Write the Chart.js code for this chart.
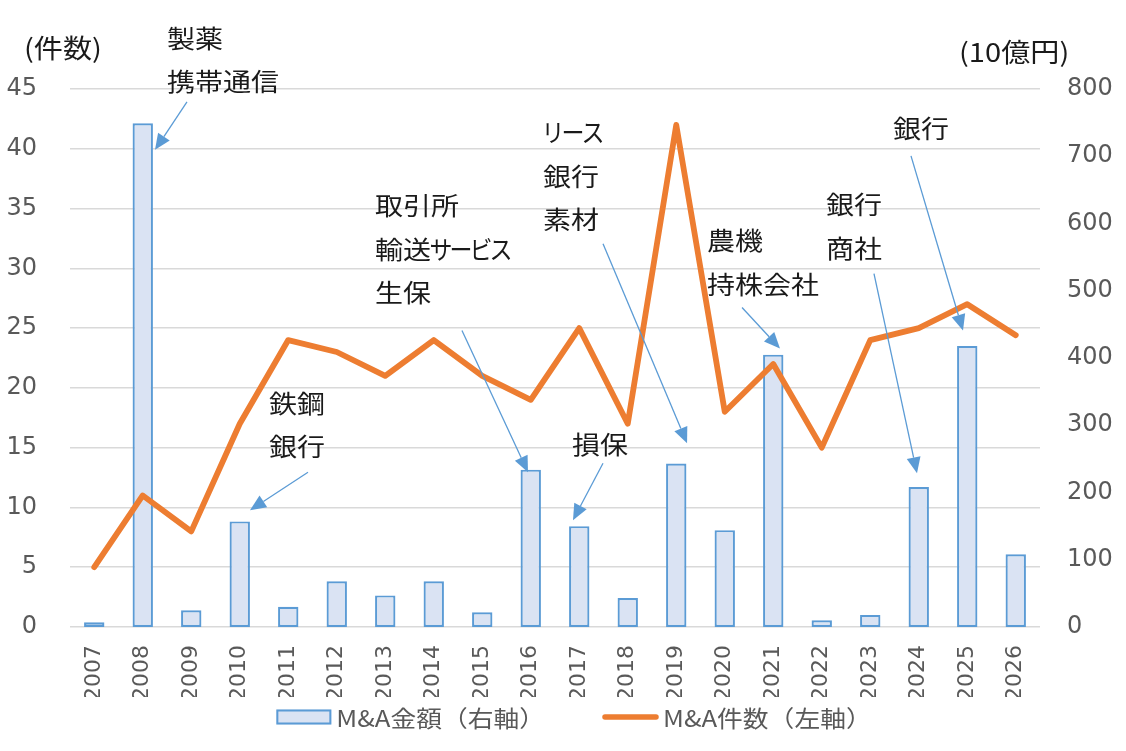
<!DOCTYPE html>
<html>
<head>
<meta charset="utf-8">
<script src="https://cdn.jsdelivr.net/npm/chart.js@4.4.1/dist/chart.umd.min.js"></script>
<style>
html,body{margin:0;padding:0;background:#fff;}
#wrap{width:1126px;height:751px;position:relative;}
</style>
</head>
<body>
<div id="wrap"><canvas id="c" width="1126" height="751"></canvas></div>
<script>
// ---- data ----
const years = ['2007','2008','2009','2010','2011','2012','2013','2014','2015','2016','2017','2018','2019','2020','2021','2022','2023','2024','2025','2026'];
const amountValues = [7,749,25,157,30,68,47,68,22,234,150,43,243,144,405,10,18,208,418,108];   // M&A金額 (10億円, right axis)
const dealCounts   = [5,11,8,17,24,23,21,24,21,19,25,17,42,18,22,15,24,25,27,24.4];            // M&A件数 (left axis)
const leftAxisRange  = [0, 45, 5];
const rightAxisRange = [0, 800, 100];
const seriesNames = ['M&A金額（右軸）', 'M&A件数（左軸）'];
const axisTitles  = ['(件数)', '(10億円)'];
const noteTexts = [
  ['製薬','携帯通信'],
  ['鉄鋼','銀行'],
  ['取引所','輸送サービス','生保'],
  ['損保'],
  ['リース','銀行','素材'],
  ['農機','持株会社'],
  ['銀行','商社'],
  ['銀行']
];
// annotation anchors in data units: [category index, right-axis value]
const noteText = [[1.50,875.7],[3.603,332.5],[5.789,626.3],[9.851,271.6],[9.253,734.7],[12.634,574.4],[15.088,627.8],[16.469,740.6]];
const noteFrom = [[1.912,780.7],[4.407,230.1],[7.582,440.8],[10.490,243.4],[10.490,569.9],[13.356,475.0],[16.077,525.4],[16.840,700.6]];
const noteTo   = [[1.253,709.5],[3.211,173.7],[8.943,230.1],[9.871,158.8],[12.223,273.1],[14.139,414.1],[16.964,228.6],[17.912,440.8]];

// ---- styles ----
const BAR_FILL = '#DAE3F3', BAR_EDGE = '#5B9BD5', LINE_COL = '#ED7D31';
const TICK_COL = '#595959', TEXT_COL = '#1a1a1a', GRID_COL = '#d9d9d9';
const CJK = '"Noto Sans CJK JP", "Noto Sans", sans-serif';
const NUM = '"DejaVu Sans", "Noto Sans", sans-serif';
const SX = 1.12;

// draws a string with horizontal stretch; katakana are set proportionally
function drawStretched(ctx, s, x, y, sx) {
  let cx = x;
  for (const ch of s) {
    const w = ctx.measureText(ch).width;
    const kana = /[\u30A0-\u30FF]/.test(ch);
    const gs = kana ? 0.92 : sx;
    const adv = kana ? w * 0.8 : w * sx;
    ctx.save();
    ctx.translate(cx + (adv - w * gs) / 2, y);
    ctx.scale(gs, 1);
    ctx.fillText(ch, 0, 0);
    ctx.restore();
    cx += adv;
  }
  return cx - x;
}
function measureStretched(ctx, s, sx) {
  let t = 0;
  for (const ch of s) {
    const w = ctx.measureText(ch).width;
    t += /[\u30A0-\u30FF]/.test(ch) ? w * 0.8 : w * sx;
  }
  return t;
}

const notesPlugin = {
  id: 'notes',
  afterDatasetsDraw(chart) {
    const ctx = chart.ctx;
    const xs = chart.scales.x, ys = chart.scales.y1;
    const P = p => [xs.getPixelForValue(p[0]), ys.getPixelForValue(p[1])];
    ctx.save();
    // arrows
    for (let i = 0; i < noteTexts.length; i++) {
      const [x1, y1] = P(noteFrom[i]);
      const [x2, y2] = P(noteTo[i]);
      const ang = Math.atan2(y2 - y1, x2 - x1);
      const head = 16, half = 7;
      const bx = x2 - head * Math.cos(ang), by = y2 - head * Math.sin(ang);
      ctx.strokeStyle = BAR_EDGE; ctx.lineWidth = 1.3;
      ctx.beginPath(); ctx.moveTo(x1, y1); ctx.lineTo(bx, by); ctx.stroke();
      ctx.fillStyle = BAR_EDGE;
      ctx.beginPath();
      ctx.moveTo(x2, y2);
      ctx.lineTo(bx + half * Math.sin(ang), by - half * Math.cos(ang));
      ctx.lineTo(bx - half * Math.sin(ang), by + half * Math.cos(ang));
      ctx.closePath(); ctx.fill();
    }
    // texts
    ctx.fillStyle = TEXT_COL;
    ctx.font = '25px ' + CJK;
    ctx.textAlign = 'left'; ctx.textBaseline = 'middle';
    for (let i = 0; i < noteTexts.length; i++) {
      const [tx, ty] = P(noteText[i]);
      noteTexts[i].forEach((s, k) => drawStretched(ctx, s, tx, ty + k * 43.3, SX));
    }
    // axis titles
    const ca = chart.chartArea;
    ctx.font = '26px ' + CJK;
    drawStretched(ctx, axisTitles[0], 24, ca.top - 41, SX);
    drawStretched(ctx, axisTitles[1], 959, ca.top - 37, SX);

    // legend
    ctx.font = '23px ' + CJK;
    ctx.fillStyle = TICK_COL;
    const boxW = 55, boxH = 15, gapText = 5, gapItems = 58;
    const legY = ca.bottom + 90;
    const w0 = measureStretched(ctx, seriesNames[0], SX);
    const w1 = measureStretched(ctx, seriesNames[1], SX);
    const total = boxW + gapText + w0 + gapItems + boxW + gapText + w1;
    let lx = chart.width / 2 - total / 2 + 11;
    ctx.fillStyle = BAR_FILL; ctx.fillRect(lx, legY - boxH / 2, boxW, boxH);
    ctx.strokeStyle = BAR_EDGE; ctx.lineWidth = 2; ctx.strokeRect(lx + 1, legY - boxH / 2 + 1, boxW - 2, boxH - 2);
    lx += boxW + gapText;
    ctx.fillStyle = TICK_COL; drawStretched(ctx, seriesNames[0], lx, legY + 1, SX);
    lx += w0 + gapItems;
    ctx.strokeStyle = LINE_COL; ctx.lineWidth = 5.5; ctx.lineCap = 'round';
    ctx.beginPath(); ctx.moveTo(lx + 2, legY); ctx.lineTo(lx + boxW - 2, legY); ctx.stroke();
    lx += boxW + gapText;
    ctx.fillStyle = TICK_COL; drawStretched(ctx, seriesNames[1], lx, legY + 1, SX);
    ctx.restore();
  }
};

new Chart(document.getElementById('c'), {
  data: {
    labels: years,
    datasets: [
      {
        type: 'bar', label: seriesNames[0], data: amountValues, yAxisID: 'y1',
        backgroundColor: BAR_FILL, borderColor: BAR_EDGE, borderWidth: 2.2, borderSkipped: false,
        barPercentage: 0.42, categoryPercentage: 1.0, order: 2
      },
      {
        type: 'line', label: seriesNames[1], data: dealCounts, yAxisID: 'y',
        borderColor: LINE_COL, backgroundColor: LINE_COL, borderWidth: 5.8,
        pointRadius: 0, tension: 0, borderJoinStyle: 'round', borderCapStyle: 'round', order: 1
      }
    ]
  },
  options: {
    responsive: false, animation: false,
    layout: { padding: { top: 89, left: 0, right: 0, bottom: 54 } },
    plugins: {
      tooltip: { enabled: false },
      legend: { display: false }
    },
    scales: {
      x: {
        grid: { display: false, drawTicks: false },
        border: { display: false },
        ticks: { color: TICK_COL, font: { family: NUM, size: 22 }, minRotation: 90, maxRotation: 90, padding: 18, autoSkip: false },
        afterFit(s) { s.height = 70; }
      },
      y: {
        position: 'left', min: leftAxisRange[0], max: leftAxisRange[1],
        ticks: { stepSize: leftAxisRange[2], color: TICK_COL, font: { family: NUM, size: 24 }, padding: 33 },
        grid: { color: GRID_COL, lineWidth: 1.6, drawTicks: false },
        border: { display: false },
        afterFit(s) { s.width = 70; }
      },
      y1: {
        position: 'right', min: rightAxisRange[0], max: rightAxisRange[1],
        ticks: { stepSize: rightAxisRange[2], color: TICK_COL, font: { family: NUM, size: 24 }, padding: 27 },
        grid: { display: false, drawTicks: false },
        border: { display: false },
        afterFit(s) { s.width = 86; }
      }
    }
  },
  plugins: [notesPlugin]
});
</script>
</body>
</html>
